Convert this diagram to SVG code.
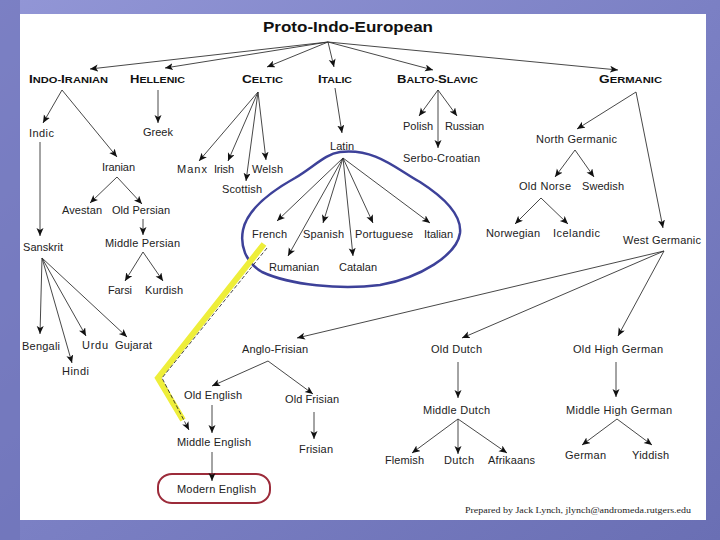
<svg xmlns="http://www.w3.org/2000/svg" width="720" height="540" viewBox="0 0 720 540">
<defs>
<linearGradient id="bg" x1="0" y1="0" x2="1" y2="1">
<stop offset="0" stop-color="#9296d6"/>
<stop offset="0.5" stop-color="#7b80c4"/>
<stop offset="1" stop-color="#6a6fb4"/>
</linearGradient>
<marker id="ah" markerUnits="userSpaceOnUse" markerWidth="10" markerHeight="8" refX="8" refY="3.5" orient="auto">
<path d="M0,0 L8,3.5 L0,7 L2,3.5 Z" fill="#111"/>
</marker>
<style>
.t{font-family:"Liberation Sans",Arial,sans-serif;font-size:11px;fill:#222}
.h{font-family:"Liberation Sans",Arial,sans-serif;font-weight:bold;font-size:9px;fill:#111}
.h .b{font-size:11px}
.ttl{font-family:"Liberation Sans",Arial,sans-serif;font-weight:bold;font-size:15px;fill:#111}
.ft{font-family:"Liberation Serif","Times New Roman",serif;font-size:8px;fill:#222}
#conn line,#conn path{stroke:#333;stroke-width:0.9;fill:none;marker-end:url(#ah)}
</style>
</defs>
<rect width="720" height="540" fill="url(#bg)"/>
<rect x="0" y="0" width="20" height="540" fill="#6d72b8" opacity="0.6"/>
<rect x="20" y="14" width="686" height="506" fill="#ffffff"/>

<g id="title"><text class="ttl" x="263" y="32" textLength="170" lengthAdjust="spacingAndGlyphs">Proto-Indo-European</text></g>

<g id="h-indoiranian"><text class="h" x="29" y="83" textLength="79" lengthAdjust="spacingAndGlyphs"><tspan class="b">I</tspan>NDO-<tspan class="b">I</tspan>RANIAN</text></g>
<g id="h-hellenic"><text class="h" x="130" y="83" textLength="55" lengthAdjust="spacingAndGlyphs"><tspan class="b">H</tspan>ELLENIC</text></g>
<g id="h-celtic"><text class="h" x="242" y="83" textLength="41" lengthAdjust="spacingAndGlyphs"><tspan class="b">C</tspan>ELTIC</text></g>
<g id="h-italic"><text class="h" x="318" y="83" textLength="34" lengthAdjust="spacingAndGlyphs"><tspan class="b">I</tspan>TALIC</text></g>
<g id="h-baltoslavic"><text class="h" x="397" y="83" textLength="81" lengthAdjust="spacingAndGlyphs"><tspan class="b">B</tspan>ALTO-<tspan class="b">S</tspan>LAVIC</text></g>
<g id="h-germanic"><text class="h" x="599" y="83" textLength="63" lengthAdjust="spacingAndGlyphs"><tspan class="b">G</tspan>ERMANIC</text></g>

<g id="highlights">
<path d="M340,152 C375,148 395,168 420,182 C445,198 462,215 460,233 C457,255 420,278 380,285 C340,290 290,285 262,272 C245,262 240,245 243,230 C247,210 270,192 295,178 C315,166 325,154 340,152 Z" fill="none" stroke="#3d4199" stroke-width="2.5"/>
<path d="M264,244 L158,378 L183,420" fill="none" stroke="#eeee3a" stroke-width="6" stroke-linejoin="miter"/>
<rect x="158" y="474" width="112" height="29" rx="14" ry="13" fill="none" stroke="#9c2b3a" stroke-width="2"/>
</g>

<g id="conn">
<line x1="328" y1="42" x2="90" y2="69"/>
<line x1="328" y1="42" x2="165" y2="68"/>
<line x1="328" y1="42" x2="267" y2="67"/>
<line x1="328" y1="42" x2="334" y2="67"/>
<line x1="328" y1="42" x2="433" y2="70"/>
<line x1="328" y1="42" x2="618" y2="70"/>
<line x1="158" y1="90" x2="158" y2="123"/>
<line x1="62" y1="90" x2="43" y2="123"/>
<line x1="62" y1="90" x2="117" y2="157"/>
<line x1="40" y1="142" x2="40" y2="236"/>
<line x1="117" y1="177" x2="90" y2="203"/>
<line x1="117" y1="177" x2="142" y2="204"/>
<line x1="143" y1="219" x2="143" y2="235"/>
<line x1="143" y1="252" x2="125" y2="281"/>
<line x1="143" y1="252" x2="163" y2="281"/>
<line x1="42" y1="258" x2="40" y2="334"/>
<line x1="42" y1="258" x2="72" y2="363"/>
<line x1="42" y1="258" x2="86" y2="336"/>
<line x1="42" y1="258" x2="127" y2="337"/>
<line x1="258" y1="92" x2="199" y2="161"/>
<line x1="258" y1="92" x2="228" y2="161"/>
<line x1="258" y1="92" x2="246" y2="181"/>
<line x1="258" y1="92" x2="266" y2="160"/>
<line x1="335" y1="88" x2="342" y2="133"/>
<line x1="343" y1="158" x2="277" y2="221"/>
<line x1="343" y1="158" x2="288" y2="256"/>
<line x1="343" y1="158" x2="323" y2="223"/>
<line x1="343" y1="158" x2="353" y2="256"/>
<line x1="343" y1="158" x2="373" y2="223"/>
<line x1="343" y1="158" x2="430" y2="223"/>
<line x1="438" y1="90" x2="419" y2="116"/>
<line x1="438" y1="90" x2="438" y2="148"/>
<line x1="438" y1="90" x2="457" y2="116"/>
<line x1="636" y1="92" x2="577" y2="129"/>
<line x1="636" y1="92" x2="663" y2="228"/>
<line x1="575" y1="150" x2="555" y2="177"/>
<line x1="575" y1="150" x2="594" y2="177"/>
<line x1="541" y1="198" x2="515" y2="224"/>
<line x1="541" y1="198" x2="568" y2="224"/>
<line x1="664" y1="251" x2="297" y2="338"/>
<line x1="664" y1="251" x2="462" y2="338"/>
<line x1="664" y1="251" x2="618" y2="336"/>
<line x1="268" y1="361" x2="212" y2="386"/>
<line x1="268" y1="361" x2="313" y2="394"/>
<line x1="212" y1="405" x2="212" y2="433"/>
<line x1="314" y1="412" x2="314" y2="439"/>
<line x1="212" y1="452" x2="212" y2="481"/>
<line x1="458" y1="362" x2="458" y2="398"/>
<line x1="616" y1="362" x2="616" y2="397"/>
<line x1="458" y1="419" x2="412" y2="453"/>
<line x1="458" y1="419" x2="458" y2="454"/>
<line x1="458" y1="419" x2="507" y2="453"/>
<line x1="617" y1="419" x2="582" y2="445"/>
<line x1="617" y1="419" x2="652" y2="445"/>
<path d="M267,248 L162,378 L189,430" stroke-dasharray="4 2"/>
</g>

<g id="n-greek"><text class="t" x="143" y="136" textLength="30">Greek</text></g>
<g id="n-indic"><text class="t" x="29" y="137" textLength="25">Indic</text></g>
<g id="n-iranian"><text class="t" x="102" y="171" textLength="33">Iranian</text></g>
<g id="n-avestan"><text class="t" x="62" y="214" textLength="40">Avestan</text></g>
<g id="n-oldpersian"><text class="t" x="112" y="214" textLength="58">Old Persian</text></g>
<g id="n-middlepersian"><text class="t" x="105" y="247" textLength="75">Middle Persian</text></g>
<g id="n-farsi"><text class="t" x="108" y="294" textLength="24">Farsi</text></g>
<g id="n-kurdish"><text class="t" x="145" y="294" textLength="38">Kurdish</text></g>
<g id="n-sanskrit"><text class="t" x="23" y="251" textLength="40">Sanskrit</text></g>
<g id="n-bengali"><text class="t" x="22" y="350" textLength="38">Bengali</text></g>
<g id="n-urdu"><text class="t" x="82" y="349" textLength="26">Urdu</text></g>
<g id="n-gujarat"><text class="t" x="115" y="349" textLength="37">Gujarat</text></g>
<g id="n-hindi"><text class="t" x="62" y="375" textLength="27">Hindi</text></g>
<g id="n-manx"><text class="t" x="177" y="173" textLength="30">Manx</text></g>
<g id="n-irish"><text class="t" x="214" y="173" textLength="20">Irish</text></g>
<g id="n-welsh"><text class="t" x="252" y="173" textLength="31">Welsh</text></g>
<g id="n-scottish"><text class="t" x="222" y="193" textLength="40">Scottish</text></g>
<g id="n-latin"><text class="t" x="330" y="150" textLength="24">Latin</text></g>
<g id="n-french"><text class="t" x="252" y="238" textLength="35">French</text></g>
<g id="n-spanish"><text class="t" x="303" y="238" textLength="41">Spanish</text></g>
<g id="n-portuguese"><text class="t" x="355" y="238" textLength="58">Portuguese</text></g>
<g id="n-italian"><text class="t" x="424" y="238" textLength="29">Italian</text></g>
<g id="n-rumanian"><text class="t" x="269" y="271" textLength="50">Rumanian</text></g>
<g id="n-catalan"><text class="t" x="339" y="271" textLength="38">Catalan</text></g>
<g id="n-polish"><text class="t" x="403" y="130" textLength="30">Polish</text></g>
<g id="n-russian"><text class="t" x="445" y="130" textLength="39">Russian</text></g>
<g id="n-serbocroatian"><text class="t" x="403" y="162" textLength="77">Serbo-Croatian</text></g>
<g id="n-northgermanic"><text class="t" x="536" y="143" textLength="81">North Germanic</text></g>
<g id="n-oldnorse"><text class="t" x="519" y="190" textLength="52">Old Norse</text></g>
<g id="n-swedish"><text class="t" x="582" y="190" textLength="42">Swedish</text></g>
<g id="n-norwegian"><text class="t" x="486" y="237" textLength="54">Norwegian</text></g>
<g id="n-icelandic"><text class="t" x="553" y="237" textLength="47">Icelandic</text></g>
<g id="n-westgermanic"><text class="t" x="623" y="244" textLength="78">West Germanic</text></g>
<g id="n-anglofrisian"><text class="t" x="242" y="353" textLength="66">Anglo-Frisian</text></g>
<g id="n-olddutch"><text class="t" x="431" y="353" textLength="51">Old Dutch</text></g>
<g id="n-oldhighgerman"><text class="t" x="573" y="353" textLength="90">Old High German</text></g>
<g id="n-oldenglish"><text class="t" x="184" y="399" textLength="58">Old English</text></g>
<g id="n-oldfrisian"><text class="t" x="285" y="403" textLength="54">Old Frisian</text></g>
<g id="n-middleenglish"><text class="t" x="177" y="446" textLength="74">Middle English</text></g>
<g id="n-frisian"><text class="t" x="299" y="453" textLength="34">Frisian</text></g>
<g id="n-modernenglish"><text class="t" x="177" y="493" textLength="79">Modern English</text></g>
<g id="n-middledutch"><text class="t" x="423" y="414" textLength="67">Middle Dutch</text></g>
<g id="n-middlehighgerman"><text class="t" x="566" y="414" textLength="106">Middle High German</text></g>
<g id="n-flemish"><text class="t" x="385" y="464" textLength="39">Flemish</text></g>
<g id="n-dutch"><text class="t" x="444" y="464" textLength="30">Dutch</text></g>
<g id="n-afrikaans"><text class="t" x="488" y="464" textLength="47">Afrikaans</text></g>
<g id="n-german"><text class="t" x="565" y="459" textLength="41">German</text></g>
<g id="n-yiddish"><text class="t" x="632" y="459" textLength="37">Yiddish</text></g>

<g id="footer"><text class="ft" x="465" y="513" textLength="226" lengthAdjust="spacingAndGlyphs">Prepared by Jack Lynch, jlynch@andromeda.rutgers.edu</text></g>
</svg>
